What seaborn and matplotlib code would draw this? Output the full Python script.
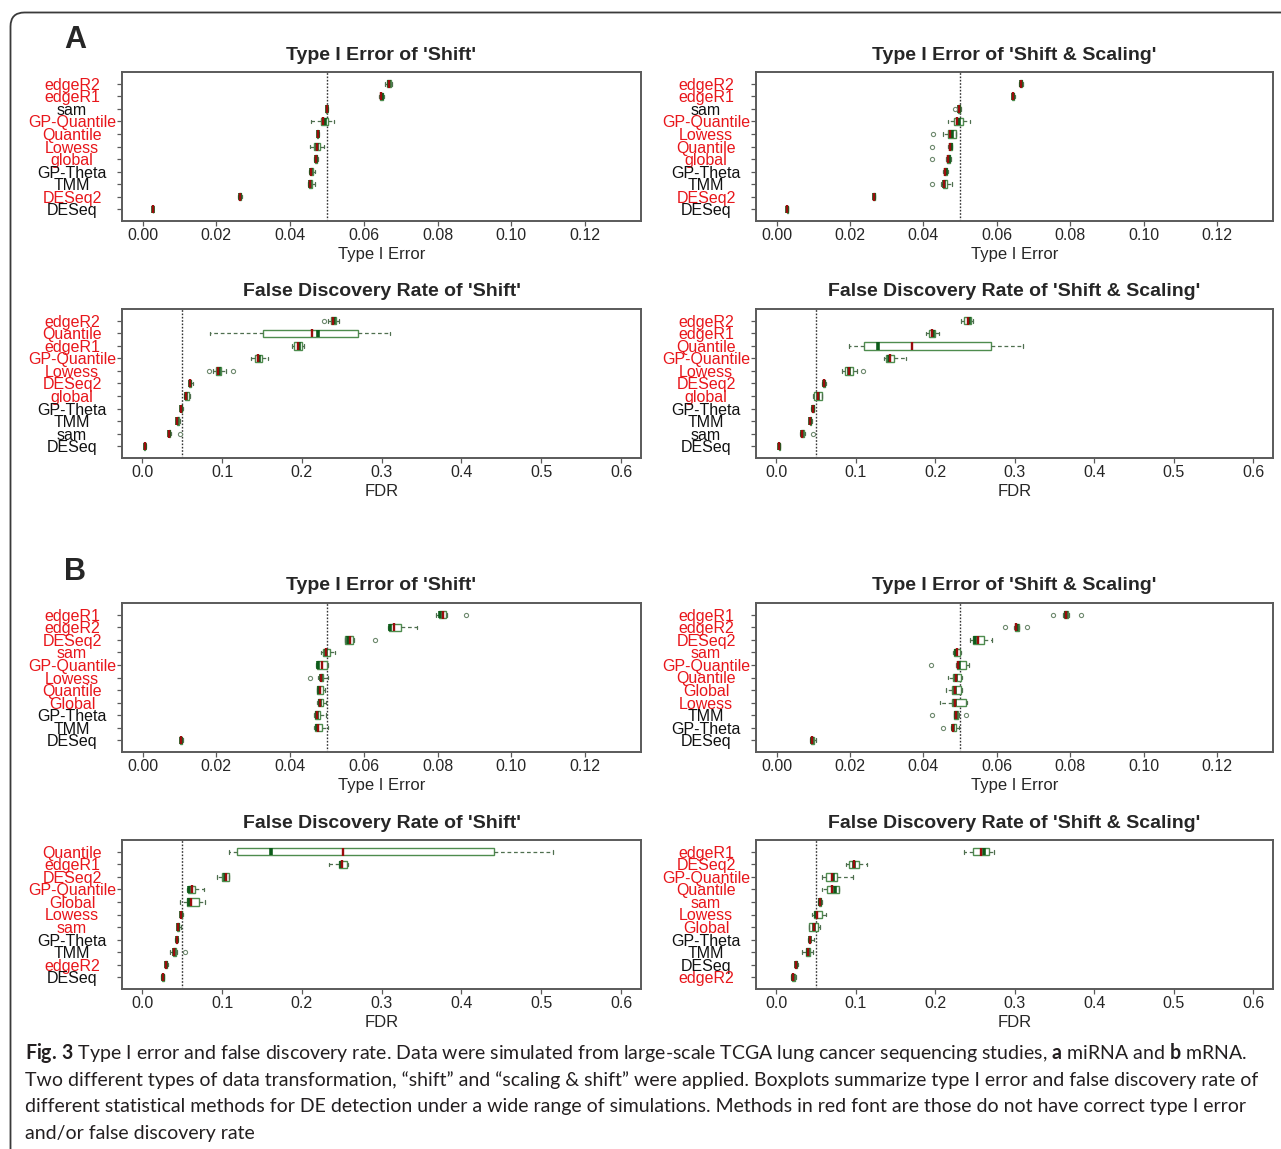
import numpy as np
import pandas as pd
import matplotlib
matplotlib.use("Agg")
import matplotlib.pyplot as plt
import matplotlib.transforms as mtransforms
from matplotlib.patches import FancyBboxPatch
import seaborn as sns

# ---------------------------------------------------------------- data
# Five-number summaries: [whisker low, Q1, median, Q3, whisker high]
# ---- A (miRNA) : Type I error, 'Shift'
a_t1s_methods = ["edgeR2", "edgeR1", "sam", "GP-Quantile", "Quantile", "Lowess",
                 "global", "GP-Theta", "TMM", "DESeq2", "DESeq"]
a_t1s_red = [1, 1, 0, 1, 1, 1, 1, 0, 0, 1, 0]
a_t1s_stats = [[0.0658, 0.0663, 0.0669, 0.0673, 0.0677],
               [0.0640, 0.0644, 0.0648, 0.0651, 0.0655],
               [0.0497, 0.0498, 0.0500, 0.0501, 0.0502],
               [0.0457, 0.0484, 0.0496, 0.0503, 0.0519],
               [0.0472, 0.0473, 0.0475, 0.0477, 0.0478],
               [0.0455, 0.0466, 0.0474, 0.0481, 0.0492],
               [0.0465, 0.0468, 0.0471, 0.0473, 0.0476],
               [0.0450, 0.0453, 0.0457, 0.0461, 0.0468],
               [0.0449, 0.0451, 0.0455, 0.0460, 0.0467],
               [0.0259, 0.0262, 0.0265, 0.0267, 0.0270],
               [0.0027, 0.0027, 0.0028, 0.0029, 0.0029]]
a_t1s_means = [0.0667, 0.0647, 0.0499, 0.0490, 0.0475, 0.0472, 0.0470, 0.0456, 0.0455, 0.0264, 0.0028]
a_t1s_out_method = []
a_t1s_out_value = []

# ---- A : Type I error, 'Shift & Scaling'
a_t1ss_methods = ["edgeR2", "edgeR1", "sam", "GP-Quantile", "Lowess", "Quantile",
                  "global", "GP-Theta", "TMM", "DESeq2", "DESeq"]
a_t1ss_red = [1, 1, 0, 1, 1, 1, 1, 0, 0, 1, 0]
a_t1ss_stats = [[0.0660, 0.0662, 0.0666, 0.0669, 0.0671],
                [0.0640, 0.0642, 0.0645, 0.0647, 0.0649],
                [0.0494, 0.0495, 0.0498, 0.0500, 0.0501],
                [0.0467, 0.0482, 0.0498, 0.0507, 0.0526],
                [0.0453, 0.0466, 0.0479, 0.0488, 0.0490],
                [0.0467, 0.0470, 0.0474, 0.0477, 0.0479],
                [0.0462, 0.0465, 0.0469, 0.0473, 0.0475],
                [0.0452, 0.0456, 0.0461, 0.0465, 0.0468],
                [0.0449, 0.0452, 0.0457, 0.0464, 0.0479],
                [0.0262, 0.0263, 0.0265, 0.0267, 0.0268],
                [0.0028, 0.0028, 0.0029, 0.0030, 0.0030]]
a_t1ss_means = [0.0665, 0.0644, 0.0497, 0.0492, 0.0473, 0.0472, 0.0467, 0.0460, 0.0456, 0.0265, 0.0029]
a_t1ss_out_method = ["sam", "Lowess", "Quantile", "global", "TMM"]
a_t1ss_out_value = [0.0485, 0.0426, 0.0424, 0.0422, 0.0422]

# ---- A : FDR, 'Shift'
a_fdrs_methods = ["edgeR2", "Quantile", "edgeR1", "GP-Quantile", "Lowess", "DESeq2",
                  "global", "GP-Theta", "TMM", "sam", "DESeq"]
a_fdrs_red = [1, 1, 1, 1, 1, 1, 1, 0, 0, 0, 0]
a_fdrs_stats = [[0.233, 0.236, 0.240, 0.243, 0.246],
                [0.085, 0.151, 0.220, 0.270, 0.310],
                [0.188, 0.190, 0.196, 0.200, 0.203],
                [0.136, 0.141, 0.146, 0.150, 0.158],
                [0.088, 0.092, 0.096, 0.099, 0.105],
                [0.058, 0.059, 0.060, 0.061, 0.063],
                [0.052, 0.053, 0.055, 0.058, 0.060],
                [0.047, 0.048, 0.049, 0.050, 0.051],
                [0.042, 0.043, 0.044, 0.046, 0.047],
                [0.032, 0.033, 0.034, 0.035, 0.036],
                [0.002, 0.002, 0.003, 0.003, 0.004]]
a_fdrs_means = [0.239, 0.213, 0.195, 0.145, 0.095, 0.060, 0.055, 0.049, 0.044, 0.034, 0.003]
a_fdrs_out_method = ["edgeR2", "Lowess", "Lowess", "sam"]
a_fdrs_out_value = [0.228, 0.084, 0.113, 0.047]

# ---- A : FDR, 'Shift & Scaling'
a_fdrss_methods = ["edgeR2", "edgeR1", "Quantile", "GP-Quantile", "Lowess", "DESeq2",
                   "global", "GP-Theta", "TMM", "sam", "DESeq"]
a_fdrss_red = [1, 1, 1, 1, 1, 1, 1, 0, 0, 0, 0]
a_fdrss_stats = [[0.232, 0.236, 0.242, 0.245, 0.247],
                 [0.189, 0.192, 0.197, 0.200, 0.205],
                 [0.092, 0.111, 0.128, 0.270, 0.310],
                 [0.136, 0.138, 0.142, 0.148, 0.163],
                 [0.083, 0.087, 0.091, 0.096, 0.101],
                 [0.058, 0.059, 0.060, 0.061, 0.062],
                 [0.046, 0.048, 0.052, 0.057, 0.058],
                 [0.044, 0.045, 0.046, 0.047, 0.048],
                 [0.041, 0.042, 0.043, 0.044, 0.045],
                 [0.030, 0.031, 0.033, 0.035, 0.036],
                 [0.003, 0.0035, 0.004, 0.0045, 0.005]]
a_fdrss_means = [0.241, 0.196, 0.171, 0.143, 0.092, 0.060, 0.052, 0.046, 0.043, 0.033, 0.004]
a_fdrss_out_method = ["Lowess", "sam"]
a_fdrss_out_value = [0.109, 0.046]

# ---- B (mRNA) : Type I error, 'Shift'
b_t1s_methods = ["edgeR1", "edgeR2", "DESeq2", "sam", "GP-Quantile", "Lowess",
                 "Quantile", "Global", "GP-Theta", "TMM", "DESeq"]
b_t1s_red = [1, 1, 1, 1, 1, 1, 1, 1, 0, 0, 0]
b_t1s_stats = [[0.0797, 0.0803, 0.0808, 0.0823, 0.0827],
               [0.0665, 0.0668, 0.0672, 0.0700, 0.0743],
               [0.0548, 0.0550, 0.0556, 0.0570, 0.0574],
               [0.0484, 0.0490, 0.0497, 0.0508, 0.0523],
               [0.0470, 0.0472, 0.0476, 0.0500, 0.0503],
               [0.0475, 0.0480, 0.0484, 0.0490, 0.0502],
               [0.0472, 0.0474, 0.0478, 0.0490, 0.0496],
               [0.0472, 0.0475, 0.0480, 0.0490, 0.0497],
               [0.0465, 0.0468, 0.0472, 0.0481, 0.0498],
               [0.0466, 0.0468, 0.0472, 0.0487, 0.0502],
               [0.0100, 0.0102, 0.0105, 0.0108, 0.0110]]
b_t1s_means = [0.0815, 0.0683, 0.0562, 0.0498, 0.0486, 0.0484, 0.0480, 0.0482, 0.0474, 0.0476, 0.0105]
b_t1s_out_method = ["edgeR1", "DESeq2", "Lowess"]
b_t1s_out_value = [0.0876, 0.0630, 0.0455]

# ---- B : Type I error, 'Shift & Scaling'
b_t1ss_methods = ["edgeR1", "edgeR2", "DESeq2", "sam", "GP-Quantile", "Quantile",
                  "Global", "Lowess", "TMM", "GP-Theta", "DESeq"]
b_t1ss_red = [1, 1, 1, 1, 1, 1, 1, 1, 0, 0, 0]
b_t1ss_stats = [[0.0780, 0.0782, 0.0788, 0.0795, 0.0797],
                [0.0646, 0.0648, 0.0654, 0.0659, 0.0661],
                [0.0527, 0.0536, 0.0540, 0.0565, 0.0588],
                [0.0480, 0.0483, 0.0490, 0.0500, 0.0503],
                [0.0489, 0.0491, 0.0496, 0.0515, 0.0523],
                [0.0466, 0.0481, 0.0490, 0.0502, 0.0505],
                [0.0462, 0.0478, 0.0487, 0.0502, 0.0505],
                [0.0446, 0.0478, 0.0485, 0.0517, 0.0518],
                [0.0482, 0.0484, 0.0488, 0.0494, 0.0496],
                [0.0475, 0.0477, 0.0481, 0.0490, 0.0498],
                [0.0090, 0.0093, 0.0097, 0.0102, 0.0108]]
b_t1ss_means = [0.0789, 0.0653, 0.0548, 0.0492, 0.0494, 0.0488, 0.0487, 0.0486, 0.0488, 0.0480, 0.0096]
b_t1ss_out_method = ["edgeR1", "edgeR1", "edgeR2", "edgeR2", "GP-Quantile", "TMM", "TMM", "GP-Theta"]
b_t1ss_out_value = [0.0754, 0.0829, 0.0623, 0.0682, 0.0421, 0.0423, 0.0516, 0.0453]

# ---- B : FDR, 'Shift'
b_fdrs_methods = ["Quantile", "edgeR1", "DESeq2", "GP-Quantile", "Global", "Lowess",
                  "sam", "GP-Theta", "TMM", "edgeR2", "DESeq"]
b_fdrs_red = [1, 1, 1, 1, 1, 1, 1, 0, 0, 1, 0]
b_fdrs_stats = [[0.109, 0.119, 0.161, 0.441, 0.515],
                [0.234, 0.246, 0.249, 0.257, 0.258],
                [0.093, 0.100, 0.103, 0.108, 0.109],
                [0.056, 0.057, 0.059, 0.066, 0.077],
                [0.047, 0.056, 0.058, 0.071, 0.078],
                [0.047, 0.048, 0.049, 0.050, 0.051],
                [0.043, 0.044, 0.045, 0.046, 0.048],
                [0.041, 0.042, 0.043, 0.044, 0.045],
                [0.035, 0.038, 0.040, 0.042, 0.044],
                [0.028, 0.029, 0.030, 0.031, 0.032],
                [0.024, 0.025, 0.026, 0.027, 0.027]]
b_fdrs_means = [0.251, 0.250, 0.105, 0.062, 0.061, 0.049, 0.045, 0.043, 0.040, 0.030, 0.026]
b_fdrs_out_method = ["TMM"]
b_fdrs_out_value = [0.054]

# ---- B : FDR, 'Shift & Scaling'
b_fdrss_methods = ["edgeR1", "DESeq2", "GP-Quantile", "Quantile", "sam", "Lowess",
                   "Global", "GP-Theta", "TMM", "DESeq", "edgeR2"]
b_fdrss_red = [1, 1, 1, 1, 1, 1, 1, 0, 0, 0, 1]
b_fdrss_stats = [[0.236, 0.247, 0.262, 0.268, 0.274],
                 [0.088, 0.091, 0.098, 0.104, 0.114],
                 [0.058, 0.063, 0.072, 0.077, 0.097],
                 [0.058, 0.064, 0.074, 0.079, 0.079],
                 [0.053, 0.054, 0.055, 0.056, 0.057],
                 [0.045, 0.048, 0.050, 0.058, 0.062],
                 [0.041, 0.041, 0.048, 0.052, 0.055],
                 [0.040, 0.041, 0.042, 0.043, 0.047],
                 [0.033, 0.037, 0.040, 0.042, 0.046],
                 [0.023, 0.024, 0.025, 0.026, 0.027],
                 [0.019, 0.020, 0.021, 0.023, 0.025]]
b_fdrss_means = [0.258, 0.098, 0.070, 0.070, 0.055, 0.051, 0.048, 0.042, 0.040, 0.025, 0.021]
b_fdrss_out_method = []
b_fdrss_out_value = []

titles = ["Type I Error of 'Shift'", "Type I Error of 'Shift & Scaling'",
          "False Discovery Rate of 'Shift'", "False Discovery Rate of 'Shift & Scaling'"]
t1_ticks = [0.00, 0.02, 0.04, 0.06, 0.08, 0.10, 0.12]
fdr_ticks = [0.0, 0.1, 0.2, 0.3, 0.4, 0.5, 0.6]
nominal_level = 0.05

caption_lines = [
    r"$\bf{Fig.\,3}$ Type I error and false discovery rate. Data were simulated from large-scale TCGA lung cancer sequencing studies, $\bf{a}$ miRNA and $\bf{b}$ mRNA.",
    "Two different types of data transformation, \u201cshift\u201d and \u201cscaling & shift\u201d were applied. Boxplots summarize type I error and false discovery rate of",
    "different statistical methods for DE detection under a wide range of simulations. Methods in red font are those do not have correct type I error",
    "and/or false discovery rate",
]

# ---------------------------------------------------------------- style
sns.set_theme(style="ticks")
plt.rcParams["font.family"] = ["Liberation Sans", "DejaVu Sans"]
plt.rcParams["mathtext.fontset"] = "custom"
plt.rcParams["mathtext.rm"] = "Lato"
plt.rcParams["mathtext.bf"] = "Lato:bold"
plt.rcParams["mathtext.it"] = "Lato:italic"

BOX_EDGE = "#4e8c4e"
MED_GREEN = "#0d5c1a"
MEAN_RED = "#9a0d0d"
WHISK = "#4f6f4f"
OUT_EDGE = "#6f8a6f"
RED_TXT = "#e8161b"
SPINE = "#5a5a5a"

W, H = 1281, 1149
fig = plt.figure(figsize=(W / 100, H / 100), dpi=100)
fig.patch.set_facecolor("white")

cols = [(122, 641), (756, 1273)]
rows = [(72, 221), (309, 458), (603, 752), (840, 989)]


def add_ax(c, r):
    x0, x1 = cols[c]
    y0, y1 = rows[r]
    return fig.add_axes([x0 / W, 1 - y1 / H, (x1 - x0) / W, (y1 - y0) / H])


def expand(st, k=20, m=5):
    lo, q1, med, q3, hi = st
    return [lo] + [q1] * k + [med] * m + [q3] * k + [hi]


def panel(ax, title, kind, methods, red, stats, means, out_m, out_v):
    recs = []
    for meth, st in zip(methods, stats):
        for v in expand(st):
            recs.append((meth, v))
    df = pd.DataFrame(recs, columns=["method", "value"])
    sns.boxplot(data=df, x="value", y="method", order=methods, orient="y",
                whis=(0, 100), width=0.58, color="white", linecolor=BOX_EDGE,
                linewidth=1.0, ax=ax,
                medianprops=dict(color=MED_GREEN, linewidth=2.6),
                whiskerprops=dict(color=WHISK, linestyle=(0, (3.0, 2.2)), linewidth=0.9),
                capprops=dict(color=WHISK, linewidth=0.9))
    mdf = pd.DataFrame({"method": methods, "mean": means})
    sns.stripplot(data=mdf, x="mean", y="method", order=methods, orient="y",
                  jitter=False, marker="|", size=5.4, color=MEAN_RED,
                  edgecolor=MEAN_RED, linewidth=1.7, ax=ax, zorder=5)
    if len(out_v):
        odf = pd.DataFrame({"method": out_m, "value": out_v})
        sns.stripplot(data=odf, x="value", y="method", order=methods, orient="y",
                      jitter=False, marker="o", size=3.0, color="white",
                      edgecolor=OUT_EDGE, linewidth=0.8, ax=ax, zorder=4)
    ax.axvline(nominal_level, color="#333333", linestyle=(0, (1.2, 1.2)), linewidth=1.0, zorder=1)

    if kind == "t1":
        ax.set_xlim(-0.0056, 0.1352)
        ax.set_xticks(t1_ticks)
        ax.set_xticklabels([f"{t:.2f}" for t in t1_ticks])
        ax.set_xlabel("Type I Error", fontsize=12, labelpad=2.5)
    else:
        ax.set_xlim(-0.0255, 0.625)
        ax.set_xticks(fdr_ticks)
        ax.set_xticklabels([f"{t:.1f}" for t in fdr_ticks])
        ax.set_xlabel("FDR", fontsize=12, labelpad=2.5)
    n = len(methods)
    ax.set_ylim(n - 1 + 0.94, -0.94)
    ax.set_ylabel("")
    ax.set_title(title, fontsize=14, fontweight="bold", pad=9)
    ax.tick_params(axis="x", length=3.6, width=0.9, pad=1.5, labelsize=11.5, color=SPINE)
    ax.tick_params(axis="y", length=3.6, width=0.9, pad=32.4, labelsize=11.5, color=SPINE)
    for lbl, r in zip(ax.get_yticklabels(), red):
        lbl.set_color(RED_TXT if r else "#111111")
        lbl.set_horizontalalignment("center")
    for sp in ax.spines.values():
        sp.set_color(SPINE)
        sp.set_linewidth(1.4)
        sp.set_visible(True)


specs = [
    (0, 0, titles[0], "t1", a_t1s_methods, a_t1s_red, a_t1s_stats, a_t1s_means, a_t1s_out_method, a_t1s_out_value),
    (1, 0, titles[1], "t1", a_t1ss_methods, a_t1ss_red, a_t1ss_stats, a_t1ss_means, a_t1ss_out_method, a_t1ss_out_value),
    (0, 1, titles[2], "fdr", a_fdrs_methods, a_fdrs_red, a_fdrs_stats, a_fdrs_means, a_fdrs_out_method, a_fdrs_out_value),
    (1, 1, titles[3], "fdr", a_fdrss_methods, a_fdrss_red, a_fdrss_stats, a_fdrss_means, a_fdrss_out_method, a_fdrss_out_value),
    (0, 2, titles[0], "t1", b_t1s_methods, b_t1s_red, b_t1s_stats, b_t1s_means, b_t1s_out_method, b_t1s_out_value),
    (1, 2, titles[1], "t1", b_t1ss_methods, b_t1ss_red, b_t1ss_stats, b_t1ss_means, b_t1ss_out_method, b_t1ss_out_value),
    (0, 3, titles[2], "fdr", b_fdrs_methods, b_fdrs_red, b_fdrs_stats, b_fdrs_means, b_fdrs_out_method, b_fdrs_out_value),
    (1, 3, titles[3], "fdr", b_fdrss_methods, b_fdrss_red, b_fdrss_stats, b_fdrss_means, b_fdrss_out_method, b_fdrss_out_value),
]
for c, r, *rest in specs:
    ax = add_ax(c, r)
    panel(ax, *rest)

# panel letters
fig.text(75 / W, 1 - 40 / H, "A", fontsize=22, fontweight="bold", ha="center", va="center")
fig.text(75 / W, 1 - 572 / H, "B", fontsize=22, fontweight="bold", ha="center", va="center")

# outer rounded frame (display pixel coordinates)
frame = FancyBboxPatch((10.5, -30), W + 40, H - 12 + 30 - 0.5,
                       boxstyle="round,pad=0,rounding_size=14",
                       transform=mtransforms.IdentityTransform(),
                       facecolor="none", edgecolor="#3a3a3a", linewidth=1.3, zorder=0)
fig.add_artist(frame)

# caption
renderer = fig.canvas.get_renderer()
probe = fig.text(0, 0, caption_lines[1], fontsize=12, family=["Lato", "DejaVu Sans"])
wpx = probe.get_window_extent(renderer).width
probe.remove()
cap_fs = 12 * 1232 / wpx
for i, line in enumerate(caption_lines):
    fig.text(25 / W, 1 - (1053 + i * 26.7) / H, line, fontsize=cap_fs,
             family=["Lato", "DejaVu Sans"], color="#231f20", ha="left", va="center")

fig.savefig("out.png", dpi=100, facecolor="white")
